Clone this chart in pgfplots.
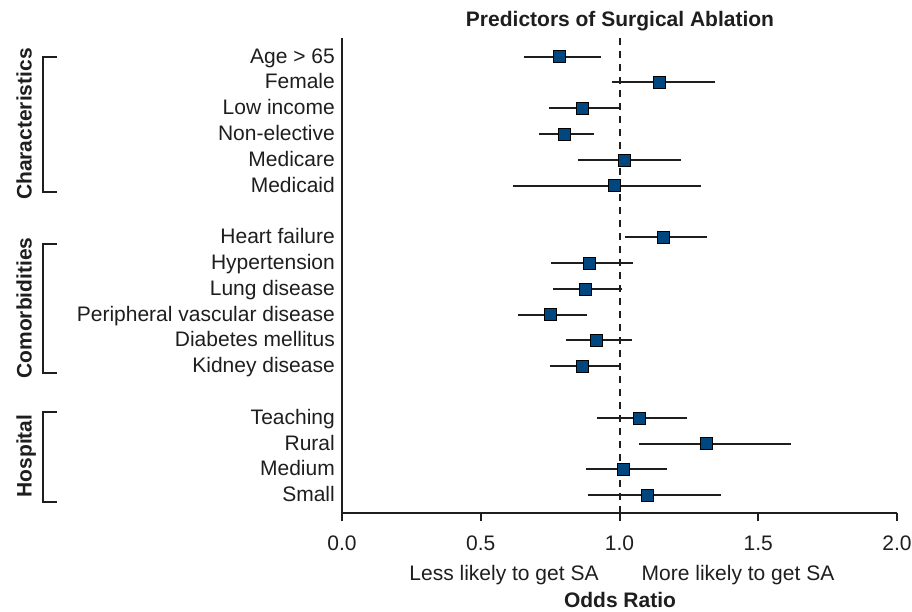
\documentclass[border=0pt]{standalone}
\usepackage{fontspec}
\setmainfont{Liberation Sans}
\usepackage{pgfplots}
\usepackage{pgfplotstable}
\pgfplotsset{compat=1.18}
\definecolor{sq}{RGB}{0,71,128}
\definecolor{ink}{RGB}{30,30,30}
\newcommand\F{\fontsize{21}{25}\selectfont}

\pgfplotstableread{
row or lo hi
0 0.783 0.657 0.934
1 1.144 0.974 1.345
2 0.866 0.745 1.000
3 0.801 0.709 0.909
4 1.018 0.851 1.223
5 0.982 0.615 1.295
7 1.159 1.019 1.314
8 0.892 0.752 1.048
9 0.877 0.759 1.010
10 0.751 0.634 0.884
11 0.917 0.807 1.046
12 0.866 0.751 1.000
14 1.072 0.918 1.244
15 1.314 1.070 1.618
16 1.014 0.878 1.172
17 1.101 0.888 1.367
}\data

\begin{document}
\begin{tikzpicture}
\path (0pt,0pt) rectangle (912pt,-611pt);
\begin{axis}[
  at={(342pt,-513pt)}, anchor=south west,
  scale only axis, width=555pt, height=475pt,
  xmin=0, xmax=2, ymin=-17.69, ymax=0.72,
  axis x line*=bottom, axis y line*=left,
  axis line style={-, line width=2.2pt, ink},
  xtick={0,0.5,1,1.5,2}, xticklabels={0.0,0.5,1.0,1.5,2.0},
  ytick={0,-1,-2,-3,-4,-5,-7,-8,-9,-10,-11,-12,-14,-15,-16,-17},
  yticklabels={Age > 65,Female,Low income,Non-elective,Medicare,Medicaid,
    Heart failure,Hypertension,Lung disease,Peripheral vascular disease,
    Diabetes mellitus,Kidney disease,Teaching,Rural,Medium,Small},
  tick align=outside, major tick length=8pt,
  xtick style={line width=2pt, ink},
  ytick style={draw=none},
  tick label style={font=\F, text=ink},
  yticklabel style={anchor=base east, inner sep=0pt, xshift=1pt, yshift=-6.5pt},
  xticklabel style={anchor=base, inner sep=0pt, yshift=-29pt},
  clip=false,
]
\draw[ink, line width=2pt, dash pattern=on 7pt off 6pt] (axis cs:1,0.72) -- (axis cs:1,-17.69);
\addplot[only marks, mark=none, draw=none,
  error bars/.cd, x dir=both, x explicit, error mark=none,
  error bar style={line width=2pt, solid, draw=ink}]
  table[x=or, y expr=-\thisrow{row},
    x error plus expr=\thisrow{hi}-\thisrow{or},
    x error minus expr=\thisrow{or}-\thisrow{lo}] {\data};
\addplot[only marks, mark=square*, mark size=6pt, mark options={fill=sq, draw=none}]
  table[x=or, y expr=-\thisrow{row}] {\data};
\end{axis}
\draw[ink, line width=2pt] (57pt,-56.7pt) -- (43pt,-56.7pt) -- (43pt,-192.3pt) -- (57pt,-192.3pt);
\draw[ink, line width=2pt] (57pt,-244.3pt) -- (43pt,-244.3pt) -- (43pt,-372.7pt) -- (57pt,-372.7pt);
\draw[ink, line width=2pt] (57pt,-412pt) -- (43pt,-412pt) -- (43pt,-501.7pt) -- (57pt,-501.7pt);
\node[font=\bfseries\F, text=ink, rotate=90, text height=15pt, text depth=0pt, inner sep=0pt] at (24pt,-124pt) {Characteristics};
\node[font=\bfseries\F, text=ink, rotate=90, text height=15pt, text depth=0pt, inner sep=0pt] at (24pt,-308pt) {Comorbidities};
\node[font=\bfseries\F, text=ink, rotate=90, text height=15pt, text depth=0pt, inner sep=0pt] at (24pt,-456pt) {Hospital};
\node[font=\bfseries\F, text=ink, anchor=base, inner sep=0pt] at (620pt,-26pt) {Predictors of Surgical Ablation};
\node[font=\F, text=ink, anchor=base, inner sep=0pt] at (504pt,-580pt) {Less likely to get SA};
\node[font=\F, text=ink, anchor=base, inner sep=0pt] at (738pt,-580pt) {More likely to get SA};
\node[font=\bfseries\F, text=ink, anchor=base, inner sep=0pt] at (620pt,-607pt) {Odds Ratio};
\end{tikzpicture}
\end{document}
